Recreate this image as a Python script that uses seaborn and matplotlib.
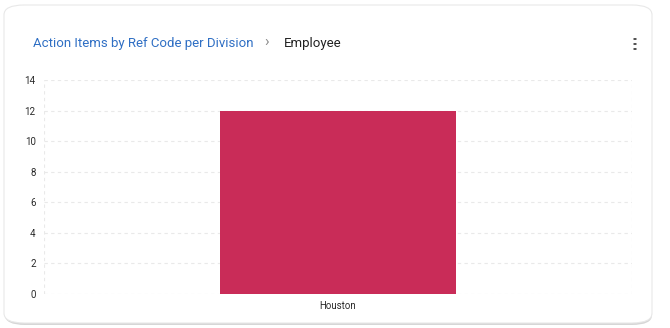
import matplotlib
matplotlib.use("Agg")
import matplotlib.pyplot as plt
import seaborn as sns
import pandas as pd
from matplotlib.patches import FancyBboxPatch

categories = ["Houston"]
values = [12]
yticks = [0, 2, 4, 6, 8, 10, 12, 14]
title_main = "Action Items by Ref Code per Division"
title_sub = "Employee"

sns.set_theme(style="white")
plt.rcParams['font.family'] = ['Roboto', 'DejaVu Sans']

df = pd.DataFrame({"division": categories, "count": values})

fig = plt.figure(figsize=(6.7, 3.28), dpi=100)
fig.patch.set_facecolor("white")

W, H = 670, 328
def fx(x): return x / W
def fy(y): return 1 - y / H
shadow = FancyBboxPatch((fx(5), fy(325)), fx(652) - fx(5), fy(6) - fy(325),
                        boxstyle="round,pad=0,rounding_size=0.03",
                        transform=fig.transFigure, facecolor="#d6d6d6", edgecolor="none", zorder=0)
card = FancyBboxPatch((fx(4), fy(323)), fx(652) - fx(4), fy(5) - fy(323),
                      boxstyle="round,pad=0,rounding_size=0.03",
                      transform=fig.transFigure, facecolor="white", edgecolor="#e8e8e8",
                      linewidth=0.8, zorder=1)
fig.patches.extend([shadow, card])

ax = fig.add_axes([fx(44), fy(294), fx(632) - fx(44), fy(80) - fy(294)])
ax.set_facecolor("none")
ax.set_zorder(2)

sns.barplot(data=df, x="division", y="count", color="#C92C58", width=0.4,
            saturation=1, ax=ax, zorder=3)
for p in ax.patches:
    p.set_edgecolor("none")

ax.set_ylim(0, 14)
ax.set_xlim(-0.5, 0.5)
ax.set_yticks(yticks)
ax.set_yticklabels([str(v) for v in yticks])
ax.set_xlabel("")
ax.set_ylabel("")
for s in ax.spines.values():
    s.set_visible(False)
gstyle = dict(color="#e9e9e9", linestyle=(0, (3, 3)), linewidth=0.8, zorder=0)
ax.grid(axis="y", **gstyle)
ax.axvline(-0.5, **gstyle)
ax.axvline(0.5, **gstyle)
ax.tick_params(axis="both", length=0, labelsize=7, colors="#2a2a2a", pad=6)
ax.tick_params(axis="x", pad=5)

fig.text(fx(33), fy(43), title_main, color="#2f6fc4", fontsize=9.5, va="center", ha="left", zorder=5)
fig.text(fx(264), fy(42), "\u203a", color="#8a8a8a", fontsize=11, va="center", ha="left", zorder=5)
fig.text(fx(284), fy(43), title_sub, color="#222222", fontsize=9.5, va="center", ha="left", zorder=5)
for yy in (39, 44, 49):
    fig.patches.append(plt.Circle((fx(635), fy(yy)), 1.8 / W, transform=fig.transFigure,
                                  facecolor="#333333", edgecolor="none", zorder=5))

fig.savefig("out.png", dpi=100, facecolor="white")
